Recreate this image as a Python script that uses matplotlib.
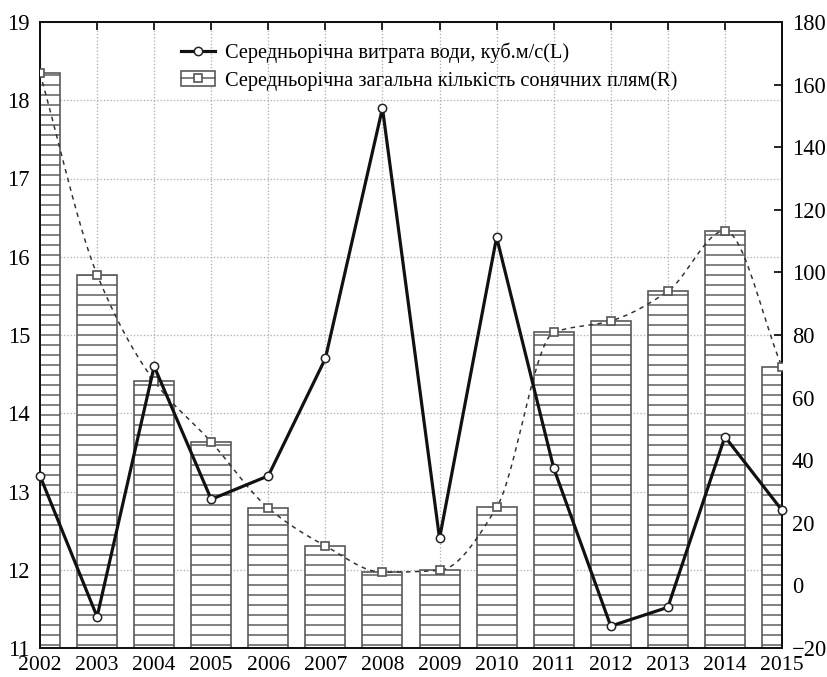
import numpy as np
import matplotlib.pyplot as plt
from matplotlib.lines import Line2D
from matplotlib.patches import Rectangle

# дані
years = np.arange(2002, 2016)
discharge = [13.2, 11.4, 14.6, 12.9, 13.2, 14.7, 17.9, 12.4, 16.25, 13.3, 11.28, 11.52, 13.7, 12.76]
sunspots = [163.6, 99.3, 65.3, 45.8, 24.7, 12.6, 4.2, 4.8, 24.9, 80.8, 84.5, 94.0, 113.3, 69.8]
label_L = "Середньорічна витрата води, куб.м/с(L)"
label_R = "Середньорічна загальна кількість сонячних плям(R)"

plt.rcParams['font.family'] = ['Liberation Serif', 'DejaVu Serif']
plt.rcParams['hatch.color'] = '#5a5a5a'
plt.rcParams['hatch.linewidth'] = 0.9


def pchip(x, y, xs):
    # монотонний кубічний сплайн (Fritsch-Carlson)
    x = np.asarray(x, float)
    y = np.asarray(y, float)
    h = np.diff(x)
    delta = np.diff(y) / h
    n = len(x)
    m = np.zeros(n)
    for i in range(1, n - 1):
        if delta[i - 1] * delta[i] > 0:
            w1 = 2 * h[i] + h[i - 1]
            w2 = h[i] + 2 * h[i - 1]
            m[i] = (w1 + w2) / (w1 / delta[i - 1] + w2 / delta[i])
    m[0] = delta[0]
    m[-1] = delta[-1]
    k = np.clip(np.searchsorted(x, xs) - 1, 0, n - 2)
    t = (xs - x[k]) / h[k]
    h00 = 2 * t ** 3 - 3 * t ** 2 + 1
    h10 = t ** 3 - 2 * t ** 2 + t
    h01 = -2 * t ** 3 + 3 * t ** 2
    h11 = t ** 3 - t ** 2
    return h00 * y[k] + h10 * h[k] * m[k] + h01 * y[k + 1] + h11 * h[k] * m[k + 1]


fig = plt.figure(figsize=(827 / 120, 677 / 120), dpi=120)
pos = [40 / 827, 1 - 648 / 677, 742 / 827, 626 / 677]
ax = fig.add_axes(pos)
ax2 = ax.twinx()

# ліва вісь: сітка
ax.set_xlim(2002, 2015)
ax.set_ylim(11, 19)
ax.set_xticks(years)
ax.set_yticks(np.arange(11, 20))
ax.grid(True, color='#b0b0b0', linestyle=(0, (1, 1.5)), linewidth=0.8)
ax.set_axisbelow(True)
ax.tick_params(axis='both', direction='in', length=5, width=1, labelsize=13.5,
               top=True)
ax.tick_params(axis='x', pad=4.5, labelsize=13)
ax.tick_params(axis='y', pad=6)

# права вісь: стовпчики
ax2.set_ylim(-20, 180)
ax2.set_yticks(np.arange(-20, 181, 20))
ax2.bar(years, np.array(sunspots) + 20, bottom=-20, width=0.7, color='white',
        edgecolor='#5a5a5a', linewidth=1.0, hatch='--', zorder=2)
xs = np.linspace(2002, 2015, 400)
ax2.plot(xs, pchip(years, sunspots, xs), color='#333333', linewidth=0.9,
         linestyle=(0, (3, 3)), zorder=3)
ax2.plot(years, sunspots, linestyle='none', marker='s', markersize=5,
         markerfacecolor='white', markeredgecolor='#555555', markeredgewidth=1.0, zorder=4)
ax2.tick_params(axis='y', direction='in', length=5, width=1, labelsize=13.5, pad=6)
ax2.set_xlim(2002, 2015)

# лінія витрати води поверх стовпчиків
ax3 = fig.add_axes(pos, sharex=ax, sharey=ax)
ax3.patch.set_visible(False)
ax3.axis('off')
ax3.plot(years, discharge, color='#111111', linewidth=1.9, marker='o', markersize=5,
         markerfacecolor='white', markeredgecolor='#222222', markeredgewidth=0.9,
         clip_on=False, zorder=5)

for a in (ax, ax2):
    for s in a.spines.values():
        s.set_linewidth(1.2)
        s.set_color('#111111')

# легенда
h1 = Line2D([], [], color='#111111', linewidth=1.9, marker='o', markersize=5,
            markerfacecolor='white', markeredgecolor='#222222', markeredgewidth=0.9)
h2a = Rectangle((0, 0), 1, 1, facecolor='white', edgecolor='#5a5a5a', linewidth=1.0)
h2b = Line2D([], [], color='#5a5a5a', linewidth=0.9, marker='s', markersize=5,
             markerfacecolor='white', markeredgecolor='#555555')
ax3.legend([h1, (h2a, h2b)], [label_L, label_R], loc='upper left',
           bbox_to_anchor=(0.166, 0.997), frameon=False, fontsize=12.2,
           handlelength=1.65, handletextpad=0.5, labelspacing=0.4)

fig.savefig('out.png', dpi=120, facecolor='white')
